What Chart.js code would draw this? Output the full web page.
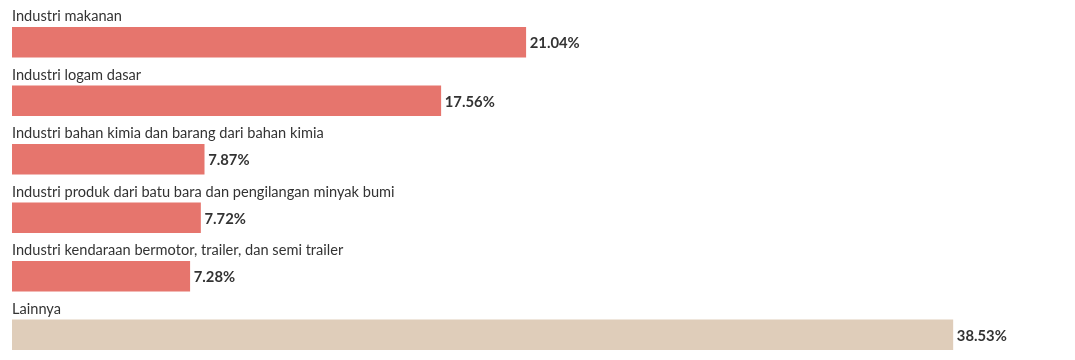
<!DOCTYPE html>
<html>
<head>
<meta charset="utf-8">
<script src="https://cdn.jsdelivr.net/npm/chart.js@4"></script>
<style>
  html, body { margin: 0; padding: 0; background: #fff; overflow: hidden; }
  #wrap { width: 1075px; height: 364px; position: relative; }
</style>
</head>
<body>
<div id="wrap"><canvas id="BarChart"></canvas></div>
<script>
const categories = [
  "Industri makanan",
  "Industri logam dasar",
  "Industri bahan kimia dan barang dari bahan kimia",
  "Industri produk dari batu bara dan pengilangan minyak bumi",
  "Industri kendaraan bermotor, trailer, dan semi trailer",
  "Lainnya"
];
const shares = [21.04, 17.56, 7.87, 7.72, 7.28, 38.53];
const barColors = ["#e6756d", "#e6756d", "#e6756d", "#e6756d", "#e6756d", "#dfcdba"];

// labels above each bar + value at the end
const labelPlugin = {
  id: "labelPlugin",
  afterDatasetsDraw(chart) {
    const ctx = chart.ctx;
    const meta = chart.getDatasetMeta(0);
    ctx.save();
    meta.data.forEach((bar, i) => {
      const top = bar.y - bar.height / 2;
      ctx.fillStyle = "#333";
      ctx.font = "14.6px Lato";
      ctx.textAlign = "left";
      ctx.textBaseline = "alphabetic";
      ctx.fillText(categories[i], chart.chartArea.left, top - 6);

      ctx.font = "bold 14.8px Lato";
      ctx.textBaseline = "middle";
      ctx.fillText(shares[i].toFixed(2) + "%", bar.x + 4, bar.y + 1);
    });
    ctx.restore();
  }
};

const ctx = document.getElementById("BarChart");
const BarChart = new Chart(ctx, {
  type: "bar",
  data: {
    labels: categories,
    datasets: [
      {
        data: shares,
        backgroundColor: barColors,
        borderWidth: 0,
        barThickness: 30
      }
    ]
  },
  options: {
    indexAxis: "y",
    responsive: true,
    maintainAspectRatio: false,
    animation: false,
    layout: { padding: { left: 12, right: 13, top: 13, bottom: 0 } },
    plugins: {
      legend: { display: false },
      tooltip: { enabled: false }
    },
    scales: {
      x: { min: 0, max: 43, display: false },
      y: { display: false }
    }
  },
  plugins: [labelPlugin]
});
</script>
</body>
</html>
